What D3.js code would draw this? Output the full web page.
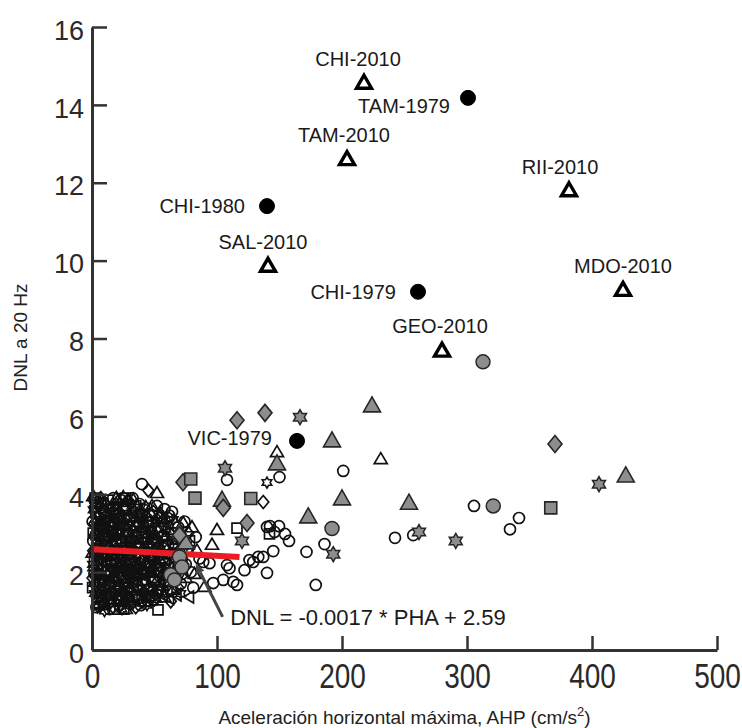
<!DOCTYPE html>
<html>
<head>
<meta charset="utf-8">
<script src="https://cdn.jsdelivr.net/npm/d3@7"></script>
<style>
  html, body { margin: 0; padding: 0; background: #fff; }
  svg { display: block; font-family: "Liberation Sans", Arial, sans-serif; }
</style>
</head>
<body>
<svg id="chart" width="742" height="728"></svg>
<script>
// ---- Axis ticks ----
const xMajorTicks = [0, 100, 200, 300, 400, 500];
const yTicks = [0, 2, 4, 6, 8, 10, 12, 14, 16];

// ---- Station records: [AHP (cm/s2), DNL at 20 Hz] ----
const openCircles = [
  [2,3.85],[5,3.1],[3,2.45],[6,1.75],[8,1.25],[10,3.55],[12,2.7],[13,2.05],[15,1.45],[17,3.9],
  [18,3.25],[20,2.4],[21,1.85],[22,1.15],[25,3.6],[26,2.9],[28,2.2],[29,1.6],[31,3.35],[33,2.55],
  [34,1.95],[36,1.3],[38,3.75],[40,3.0],[41,2.3],[43,1.7],[46,3.45],[47,2.65],[49,2.0],[51,1.45],
  [53,3.15],[55,2.45],[57,1.85],[60,3.4],[61,2.7],[63,2.1],[66,3.0],[68,2.45],[71,1.7],[74,3.3],
  [76,2.6],[79,2.0],[83,2.9],[86,2.35],[89,2.26],[94,2.23],[97,1.72],[105,1.8],[108,2.18],[110,2.1],
  [113,1.75],[116,1.67],[122,2.05],[126,2.31],[129,2.26],[133,2.39],[40,4.26],[58,3.62],[64,3.55],[62,3.45],
  [1,2.8],[4,1.35],[7,3.45],[9,2.5],[11,1.9],[14,1.05],[16,3.05],[19,2.2],[23,3.85],[24,2.6],
  [27,1.4],[30,2.75],[32,1.75],[35,3.15],[37,2.35],[39,1.15],[42,3.6],[44,2.85],[46,1.35],[50,2.4],
  [52,3.7],[54,1.9],[57,2.95],[59,2.25],[63,1.55],[65,2.75],[69,3.15],[72,1.95],[75,2.2],[81,1.6],
  [0.5,3.3],[2,1.95],[3.5,1.1],[5.5,2.65],[7.5,2.05],[9.5,3.05],[11.5,1.45],[13.5,3.3],[16.5,2.45],[18.5,1.6],
  [20.5,3.35],[22.5,2.15],[25.5,1.9],[27.5,3.05],[29.5,2.35],[32.5,3.9],[34.5,2.25],[36.5,1.65],[38.5,2.65],[41.5,1.95],
  [43.5,3.3],[45.5,2.15],[48.5,2.85],[50.5,1.8],[53.5,2.25],[56.5,1.55],[58.5,2.7],[60.5,1.95],
  [201,4.6],[150,4.44],[108,4.37],[305.6,3.7],[142.4,3.18],[149.6,3.18],[146,3.03],[154.4,2.98],[157.6,2.8],[186,2.72],
  [171.6,2.52],[145,2.54],[137,2.39],[140,1.98],[179,1.67],[242.4,2.88],[257,2.95],[341.6,3.39],[334.4,3.1],[140,3.16]
];
const openTriangles = [
  [1,3.95],[4,3.4],[7,2.8],[2,2.15],[5,1.5],[9,1.15],[11,3.75],[13,3.1],[15,2.45],[16,1.9],
  [18,1.3],[20,3.6],[22,2.95],[24,2.25],[25,1.55],[27,1.05],[29,3.8],[30,3.2],[32,2.6],[35,2.0],
  [37,1.4],[39,3.5],[42,2.85],[44,2.15],[45,1.6],[48,3.7],[50,3.0],[52,4.03],[54,2.35],[56,1.65],
  [59,2.9],[62,2.2],[65,1.55],[67,3.25],[70,2.6],[73,3.26],[75,1.85],[80,3.15],[84,2.55],[90,1.62],
  [3,3.05],[6,1.2],[8,2.45],[10,1.85],[12,3.4],[14,2.65],[17,3.2],[19,1.75],[21,2.55],[23,3.35],
  [26,2.1],[28,1.35],[31,2.95],[33,3.85],[36,2.7],[38,1.95],[41,3.15],[43,1.25],[46,2.4],[49,1.85],
  [53,2.65],[57,3.35],[61,1.75],[64,2.45],[68,2.85],
  [0.5,2.5],[2.5,1.75],[4.5,2.95],[6.5,3.75],[8.5,1.55],[10.5,2.95],[13,1.4],[15,3.4],[17.5,2.7],[19.5,3.9],
  [21.5,1.4],[24.5,2.85],[26.5,3.65],[28.5,2.55],[30.5,1.6],[34.5,3.4],[37.5,2.2],[40.5,2.6],[43.5,3.45],[47.5,2.0],
  [51,2.3],[55,3.5],[58,1.35],
  [96,2.7],[100,3.08],[82,1.95],[148,5.08],[231,4.9]
];
const openSquares = [
  [3,3.55],[6,2.6],[4,1.95],[8,1.4],[10,3.3],[12,2.25],[14,1.7],[17,3.6],[19,2.8],[21,2.1],
  [23,1.25],[26,3.45],[28,2.65],[30,1.95],[32,1.35],[35,3.7],[37,2.75],[39,2.1],[42,1.25],[45,3.3],
  [47,2.45],[50,1.75],[52.8,1.03],[55,3.05],[58,2.3],[60,1.5],[64,2.85],[67,1.9],[72,2.35],[78,2.8],
  [1,3.0],[2,2.3],[5,1.2],[7,3.75],[9,2.95],[13,3.85],[15,2.0],[18,1.05],[20,3.0],[24,2.3],
  [27,3.9],[29,1.3],[31,2.5],[34,2.2],[36,1.55],[40,3.45],[44,2.65],[48,1.4],[52,2.0],[56,3.4],
  [0.5,1.6],[2.5,3.9],[4.5,2.45],[6.5,1.75],[8.5,3.15],[11,2.65],[13.5,1.25],[16,3.3],[18,2.45],[21,1.65],
  [23.5,2.8],[25.5,1.05],[28,3.2],[30.5,2.3],[33,1.75],[35.5,2.9],[38,3.3],[41,1.8],[43,3.0],[46,1.55],
  [49,2.7],[53,1.55],
  [26,1.6],[33,3.05],[116,3.13],[142,2.98]
];
const openDiamonds = [
  [2,3.25],[4,2.75],[3,1.65],[7,3.9],[9,2.15],[11,1.35],[14,3.2],[16,2.55],[17,1.1],[19,3.75],
  [22,2.7],[24,1.95],[27,3.35],[29,2.45],[31,1.2],[34,3.55],[36,2.2],[38,1.6],[41,3.25],[43,2.5],
  [46,1.85],[49,3.55],[51,2.75],[54,1.55],[57,3.2],[60,2.05],[63,1.25],[66,2.65],[69,1.6],[73,2.2],
  [1,2.55],[5,3.45],[6,1.4],[8,2.95],[10,1.75],[12,2.45],[15,3.6],[18,2.05],[20,1.35],[23,3.1],
  [26,2.25],[28,1.75],[31,3.75],[33,2.0],[37,3.0],[40,2.05],[42,1.45],[45,2.95],[48,2.3],[52,3.35],
  [55,2.0],[58,2.6],[62,3.0],[65,1.9],
  [0.5,1.85],[2.5,3.7],[4.5,2.15],[6.5,3.15],[9,1.2],[11,3.05],[13,2.6],[15,1.75],[17,2.95],[19.5,1.85],
  [21.5,3.55],[23.5,2.45],[25.5,1.45],[28,2.95],[30,1.55],[32,2.85],[35,1.85],[38,3.55],[40,1.25],[43,2.0],
  [47,3.3],[50,1.3],
  [35,1.1],[77,3.0],[28.8,3.85],[45,4.1],[137,3.8]
];
const openStars = [
  [1,3.6],[3,2.95],[5,2.0],[7,1.35],[9,3.8],[11,2.9],[13,1.95],[15,1.2],[18,3.35],[20,2.55],
  [22,1.65],[25,3.95],[27,2.4],[30,1.35],[32,3.55],[34,2.8],[37,1.75],[40,3.4],[42,1.95],[44,1.15],
  [47,3.1],[49,2.3],[52,1.3],[55,2.6],[58,1.95],[61,2.45],[65,3.35],[68,2.2],[71,1.45],[76,2.7],
  [2,1.45],[4,3.85],[6,2.6],[8,1.75],[10,3.2],[12,2.25],[14,3.65],[16,1.5],[19,2.9],[21,2.05],
  [23,1.35],[26,3.2],[28,2.0],[31,2.65],[33,1.2],[36,3.25],[39,2.25],[41,1.35],[45,2.55],[48,1.6],
  [51,3.25],[54,2.15],[59,3.1],
  [0.5,2.2],[2.5,3.35],[4.5,1.1],[6,3.3],[8,2.25],[10,2.7],[12,1.55],[14,2.4],[17,1.85],[19,3.7],
  [22,3.05],[24,2.05],[27,1.65],[29,3.45],[32,2.1],[35,3.0],[37,1.35],[40,2.8],[43,3.7],[46,2.0],
  [50,2.85],[53,3.5],
  [10,1.0],[24,1.05],[140,4.3]
];
const openLeftTriangles = [
  [6,2.35],[10,1.6],[14,2.95],[19,1.55],[23,3.15],[26,1.2],[33,1.65],[38,2.55],[44,1.34],[48,2.1],
  [53,2.9],[57,1.4],[62,1.33],[68,1.41],[78,1.36],[12,3.5],[30,2.0],
  [3,1.9],[5,2.9],[8,3.6],[11,2.2],[16,2.25],[21,3.45],[25,2.55],[29,1.9],[35,2.45],[40,1.5],
  [46,3.05],[50,2.6],[55,1.7]
];
const grayCircles = [[63,1.93],[66,1.8],[70,2.39],[72,2.13],[192,3.12],[312.8,7.4],[321,3.7]];
const grayTriangles = [
  [70,3.03],[75,2.75],[104,3.85],[148,4.78],[173,3.42],[192,5.37],[200,3.88],[224,6.27],[253.6,3.77],[427,4.47]
];
const grayDiamonds = [[70,2.95],[72.8,4.31],[105,3.65],[124,3.26],[116,5.9],[138.4,6.09],[370.4,5.29]];
const graySquares = [[79,4.39],[82.4,3.9],[127,3.89],[367,3.65]];
const grayStars = [[106.4,4.67],[120,2.8],[166.4,5.98],[193,2.46],[261.6,3.03],[291,2.8],[405.6,4.26]];

// Named events
const events1979 = ["TAM-1979", "CHI-1980", "CHI-1979", "VIC-1979"];
const events1979X = [300.8, 140, 260.8, 164];
const events1979Y = [14.18, 11.4, 9.2, 5.37];
const events2010 = ["CHI-2010", "TAM-2010", "RII-2010", "SAL-2010", "MDO-2010", "GEO-2010"];
const events2010X = [217.6, 204, 381.6, 140.8, 424.8, 280];
const events2010Y = [14.56, 12.6, 11.8, 9.86, 9.24, 7.68];

// Linear fit DNL = slope * PHA + intercept
const fitSlope = -0.0017;
const fitIntercept = 2.59;
const fitRange = [0, 118];

// ---- Scales ----
const svg = d3.select("#chart");
const x = d3.scaleLinear().domain([0, 500]).range([92, 717]);
const y = d3.scaleLinear().domain([0, 16]).range([650, 27]);

// ---- Marker shapes ----
const fmt = v => v.toFixed(2);
const poly = pts => "M" + pts.map(p => fmt(p[0]) + "," + fmt(p[1])).join("L") + "Z";
const circlePath = r => `M${-r},0A${r},${r} 0 1,0 ${r},0A${r},${r} 0 1,0 ${-r},0Z`;
const triPath = (w, h) => poly([[0, -h * 0.6], [w, h * 0.4], [-w, h * 0.4]]);
const leftTriPath = (w, h) => poly([[-h * 0.6, 0], [h * 0.4, -w], [h * 0.4, w]]);
const squarePath = s => poly([[-s/2, -s/2], [s/2, -s/2], [s/2, s/2], [-s/2, s/2]]);
const diamondPath = (w, h) => poly([[0, -h], [w, 0], [0, h], [-w, 0]]);
const hexagramPath = r => {
  const pts = [];
  for (let i = 0; i < 12; i++) {
    const a = -Math.PI / 2 + i * Math.PI / 6;
    const rr = i % 2 ? r * 0.577 : r;
    pts.push([rr * Math.cos(a), rr * Math.sin(a)]);
  }
  return poly(pts);
};

function drawMarkers(data, d, fill, stroke, sw) {
  svg.append("g")
    .selectAll("path")
    .data(data)
    .join("path")
    .attr("transform", p => `translate(${x(p[0])},${y(p[1])})`)
    .attr("d", d)
    .attr("fill", fill)
    .attr("stroke", stroke)
    .attr("stroke-width", sw)
    .attr("stroke-linejoin", "miter");
}

const ink = "#111";
const grayFill = "#8d8d8d";
const grayEdge = "#262626";

// Open markers
drawMarkers(openCircles, circlePath(5.5), "none", ink, 1.7);
drawMarkers(openTriangles, triPath(6.5, 11), "none", ink, 1.7);
drawMarkers(openSquares, squarePath(10), "none", ink, 1.7);
drawMarkers(openDiamonds, diamondPath(5.5, 6.5), "none", ink, 1.7);
drawMarkers(openStars, hexagramPath(5.5), "none", ink, 1.6);
drawMarkers(openLeftTriangles, leftTriPath(6, 10), "none", ink, 1.7);

// Regression line
svg.append("line")
  .attr("x1", x(fitRange[0])).attr("y1", y(fitIntercept + fitSlope * fitRange[0]))
  .attr("x2", x(fitRange[1])).attr("y2", y(fitIntercept + fitSlope * fitRange[1]))
  .attr("stroke", "#ec1c24").attr("stroke-width", 6);

// Gray filled markers
drawMarkers(grayCircles, circlePath(7), grayFill, grayEdge, 1.5);
drawMarkers(grayTriangles, triPath(8.5, 15), grayFill, grayEdge, 1.6);
drawMarkers(grayDiamonds, diamondPath(7, 8.5), grayFill, grayEdge, 1.6);
drawMarkers(graySquares, squarePath(12), grayFill, grayEdge, 1.6);
drawMarkers(grayStars, hexagramPath(7.5), grayFill, grayEdge, 1.5);

// Named events: black dots and bold open triangles
const ev79 = events1979.map((n, i) => [events1979X[i], events1979Y[i], n]);
const ev10 = events2010.map((n, i) => [events2010X[i], events2010Y[i], n]);
drawMarkers(ev79, circlePath(7.5), "#000", "#000", 1);
drawMarkers(ev10, triPath(7.5, 13), "#fff", "#000", 3.4);

// Event labels: [dx, dy, anchor] relative to the marker
const labelPlacement = {
  "CHI-2010": [-6, -17, "middle"],
  "TAM-1979": [-18, 15, "end"],
  "TAM-2010": [-3, -17, "middle"],
  "RII-2010": [-9, -17, "middle"],
  "CHI-1980": [-22, 7, "end"],
  "SAL-2010": [-5, -17, "middle"],
  "MDO-2010": [0, -17, "middle"],
  "CHI-1979": [-22, 7, "end"],
  "GEO-2010": [-2, -18, "middle"],
  "VIC-1979": [-25, 4, "end"]
};
svg.append("g")
  .selectAll("text")
  .data(ev79.concat(ev10))
  .join("text")
  .attr("x", d => x(d[0]) + labelPlacement[d[2]][0])
  .attr("y", d => y(d[1]) + labelPlacement[d[2]][1])
  .attr("text-anchor", d => labelPlacement[d[2]][2])
  .attr("font-size", 20)
  .attr("fill", "#1a1a1a")
  .text(d => d[2]);

// Equation annotation with arrow
const arrowHead = [83, 2.22];
const arrowTail = [104.5, 0.85];
const ax1 = x(arrowTail[0]), ay1 = y(arrowTail[1]);
const ax2 = x(arrowHead[0]), ay2 = y(arrowHead[1]);
const ang = Math.atan2(ay2 - ay1, ax2 - ax1);
const headLen = 10, headW = 4.5;
const bx = ax2 - headLen * Math.cos(ang), by = ay2 - headLen * Math.sin(ang);
svg.append("line")
  .attr("x1", ax1).attr("y1", ay1).attr("x2", bx).attr("y2", by)
  .attr("stroke", "#444").attr("stroke-width", 3);
svg.append("path")
  .attr("d", poly([
    [ax2, ay2],
    [bx + headW * Math.sin(ang), by - headW * Math.cos(ang)],
    [bx - headW * Math.sin(ang), by + headW * Math.cos(ang)]
  ]))
  .attr("fill", "#444");
svg.append("text")
  .attr("x", x(110.5)).attr("y", y(0.64))
  .attr("font-size", 22)
  .attr("fill", "#1a1a1a")
  .text(`DNL = ${fitSlope} * PHA + ${fitIntercept}`);

// ---- Axes ----
const axisColor = "#333";
const xAxisG = svg.append("g").attr("transform", `translate(0,${y(0)})`);
xAxisG.call(d3.axisBottom(x).tickValues(d3.range(0, 501, 20)).tickSizeInner(-7).tickSizeOuter(0).tickFormat(""));
xAxisG.call(d3.axisBottom(x).tickValues(xMajorTicks).tickSizeInner(-14).tickSizeOuter(0));
xAxisG.selectAll("path.domain").attr("stroke", axisColor).attr("stroke-width", 3);
xAxisG.selectAll(".tick line").attr("stroke", axisColor).attr("stroke-width", 2.5);
xAxisG.selectAll(".tick text")
  .attr("y", 38).attr("dy", 0)
  .attr("font-size", 35)
  .attr("fill", "#2a2a2a")
  .attr("font-family", "Liberation Sans, Arial, sans-serif")
  .attr("transform", "scale(0.8,1)");

const yAxisG = svg.append("g").attr("transform", `translate(${x(0)},0)`);
yAxisG.call(d3.axisLeft(y).tickValues(yTicks).tickSizeInner(-15).tickSizeOuter(0));
yAxisG.selectAll("path.domain").attr("stroke", axisColor).attr("stroke-width", 3);
yAxisG.selectAll(".tick line").attr("stroke", axisColor).attr("stroke-width", 2.5);
yAxisG.selectAll(".tick text")
  .attr("x", -8).attr("dy", "0.45em")
  .attr("font-size", 27)
  .attr("fill", "#2a2a2a")
  .attr("font-family", "Liberation Sans, Arial, sans-serif");

// Axis titles
const xTitle = svg.append("text")
  .attr("x", (x(0) + x(500)) / 2).attr("y", 724)
  .attr("text-anchor", "middle")
  .attr("font-size", 19)
  .attr("fill", "#222");
xTitle.append("tspan").text("Aceleración horizontal máxima, AHP (cm/s");
xTitle.append("tspan").attr("dy", -8).attr("font-size", 13).text("2");
xTitle.append("tspan").attr("dy", 8).text(")");

svg.append("text")
  .attr("transform", `translate(27,${(y(0) + y(16)) / 2 - 1}) rotate(-90)`)
  .attr("text-anchor", "middle")
  .attr("font-size", 19)
  .attr("fill", "#222")
  .text("DNL a 20 Hz");
</script>
</body>
</html>
